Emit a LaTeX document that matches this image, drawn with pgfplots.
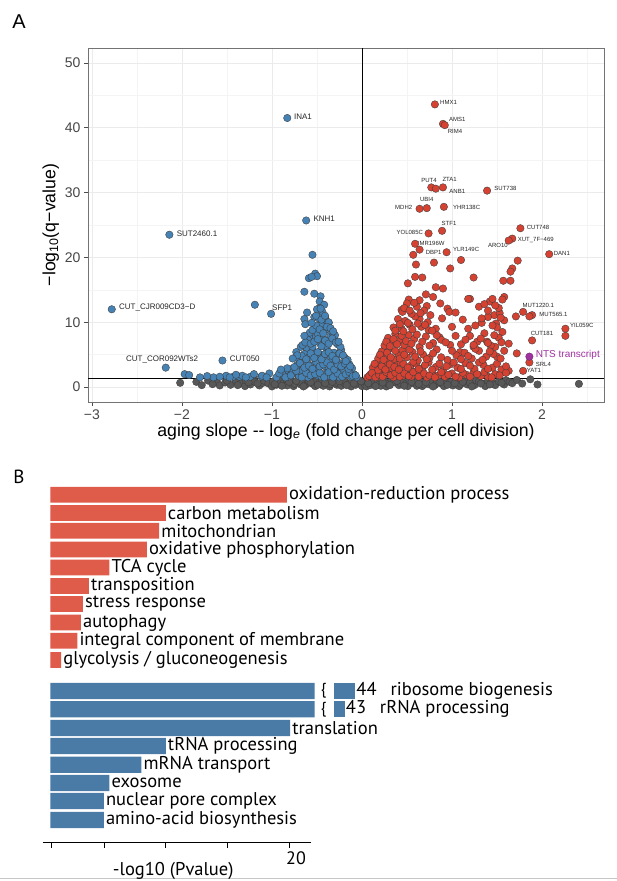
\documentclass[border=0pt]{standalone}
\usepackage{fontspec}
\setmainfont{Liberation Sans}
\newfontfamily\myriad{PT Sans}
\usepackage{pgfplots}
\usepackage{pgfplotstable}
\pgfplotsset{compat=1.18}
\definecolor{ptBlue}{RGB}{70,130,180}
\definecolor{ptRed}{RGB}{214,66,50}
\definecolor{ptGray}{RGB}{88,88,88}
\definecolor{ptPurple}{RGB}{160,50,160}
\definecolor{edge}{RGB}{60,60,60}
\definecolor{barRed}{RGB}{224,92,74}
\definecolor{barBlue}{RGB}{74,122,166}

\pgfplotstableread[col sep=comma]{
x,y,label
19.73,-494.7,oxidation-reduction process
9.62,-513.0,carbon metabolism
9.06,-530.8,mitochondrian
8.04,-549.5,oxidative phosphorylation
4.91,-567.5,TCA cycle
3.20,-586.0,transposition
2.70,-604.0,stress response
2.54,-622.5,autophagy
2.24,-640.8,integral component of membrane
0.89,-660.0,glycolysis / gluconeogenesis
}\redtab

\pgfplotstableread[col sep=comma]{
x,y,label
22.04,-691.0,
22.04,-709.3,
20.00,-728.0,translation
9.62,-746.0,tRNA processing
7.58,-764.7,mRNA transport
4.91,-783.0,exosome
4.45,-801.0,nuclear pore complex
4.45,-820.0,amino-acid biosynthesis
}\bluetab

\begin{document}
\begin{tikzpicture}
\fill[white] (0,0) rectangle (617pt,881pt);
\useasboundingbox (0,0) rectangle (617pt,881pt);
\node[font=\fontsize{20}{20}\selectfont] at (19pt,859pt) {A};
\node[font=\myriad\fontsize{19}{19}\selectfont] at (19pt,404pt) {B};
\draw[gray!45, line width=1.5pt] (0,2.5pt) -- (617pt,2.5pt);

% ---------------- Panel A: volcano ----------------
\begin{axis}[
  at={(88pt,479pt)}, anchor=south west,
  scale only axis, width=516pt, height=354pt,
  xmin=-3.044, xmax=2.689, ymin=-2.3, ymax=52.3,
  xtick={-3,-2,-1,0,1,2}, xticklabels={−3,−2,−1,0,1,2},
  ytick={0,10,20,30,40,50},
  minor xtick={-2.5,-1.5,-0.5,0.5,1.5,2.5},
  minor ytick={5,15,25,35,45},
  grid=both,
  major grid style={gray!16, line width=0.6pt},
  minor grid style={gray!9, line width=0.4pt},
  axis line style={black!55, line width=0.7pt},
  tick pos=left, tick align=outside,
  major tick length=4pt, minor tick length=0pt,
  tick style={black!70, line width=0.6pt},
  /pgf/number format/assume math mode=true,
  ticklabel style={font=\fontsize{14}{14}\selectfont, text=black!72},
  xlabel={aging slope -{}- log\textsubscript{\itshape e} (fold change per cell division)},
  ylabel={−log\textsubscript{10}(q−value)},
  label style={font=\fontsize{17.7}{18}\selectfont},
  xlabel style={yshift=3pt},
  ylabel style={yshift=-1pt},
  mark size=3.75pt,
]
% grey, not significant
\addplot[only marks, mark=*, mark options={fill=ptGray, draw=edge, line width=0.35pt}] coordinates {
(-2.02,0.66) (-1.84,0.80) (-1.78,0.30) (-1.71,1.00) (-1.61,0.70) (-1.58,0.25) (-1.52,0.70)
(-1.46,0.35) (-1.40,0.90) (-1.35,0.55) (-1.30,0.15) (-1.29,1.05) (-1.24,0.40) (-1.20,1.15)
(-1.19,0.80) (-1.14,0.25) (-1.10,0.65) (-1.09,1.00) (-1.04,0.55) (-1.00,0.10) (-0.99,0.85)
(-0.95,0.35) (-0.92,0.75) (-0.91,1.10) (-0.87,0.65) (-0.84,1.15) (-0.83,0.25) (-0.79,0.95)
(-0.76,0.15) (-0.75,0.50) (-0.71,1.10) (-0.68,0.40) (-0.67,0.70) (-0.63,0.30) (-0.60,0.65)
(-0.59,0.90) (-0.55,0.50) (-0.52,0.15) (-0.51,1.05) (-0.47,0.65) (-0.44,0.90) (-0.43,0.20)
(-0.39,0.85) (-0.36,0.10) (-0.35,0.45) (-0.31,1.00) (-0.28,0.35) (-0.27,0.60) (-0.23,0.20)
(-0.20,0.65) (-0.19,0.90) (-0.15,0.50) (-0.12,0.10) (-0.11,0.85) (-0.07,0.35) (-0.05,1.00)
(-0.03,0.65) (0.00,0.15) (0.03,0.45) (0.05,0.10) (0.06,0.85) (0.09,0.30) (0.11,0.65)
(0.13,1.00) (0.17,0.60) (0.19,0.35) (0.21,0.20) (0.25,0.95) (0.27,0.10) (0.29,0.50)
(0.33,1.10) (0.35,0.80) (0.37,0.70) (0.41,0.30) (0.43,0.60) (0.45,0.95) (0.49,0.50)
(0.51,0.15) (0.53,1.05) (0.57,0.60) (0.59,0.95) (0.61,0.20) (0.65,0.85) (0.67,0.15)
(0.69,0.40) (0.73,1.10) (0.75,0.40) (0.77,0.70) (0.81,0.30) (0.83,0.60) (0.85,0.90)
(0.89,0.50) (0.91,0.15) (0.93,1.05) (0.97,0.60) (0.99,0.80) (1.01,0.25) (1.05,0.90)
(1.08,0.15) (1.10,0.50) (1.15,1.00) (1.17,0.40) (1.20,0.65) (1.25,0.30) (1.27,1.05)
(1.30,0.85) (1.35,0.50) (1.37,0.15) (1.40,1.00) (1.46,0.60) (1.48,0.30) (1.52,0.90)
(1.58,0.40) (1.60,1.05) (1.64,0.80) (1.67,0.60) (1.72,1.10) (1.78,0.55) (1.87,1.20)
(1.95,0.40) (2.41,0.50)
(-0.97,0.45) (-0.89,0.20) (-0.81,0.80) (-0.73,0.95) (-0.65,0.10) (-0.57,0.75) (-0.49,0.35)
(-0.41,0.60) (-0.33,0.80) (-0.25,0.90) (-0.17,0.30) (-0.09,0.55) (-0.01,0.90) (0.07,0.60)
(0.15,0.15) (0.23,0.70) (0.31,0.30) (0.39,0.95) (0.47,0.20) (0.55,0.80) (0.63,0.50)
(0.71,0.75) (0.79,0.10) (0.87,0.75) (0.95,0.35) (1.03,0.60) (1.12,0.80) (1.22,0.10)
(1.32,0.55) (1.42,0.40) (1.55,0.65) (-1.16,0.55) (-1.26,0.75) (-1.38,0.30) (-1.50,1.00)
(-1.66,0.45)
};
% blue, decreasing with age
\addplot[only marks, mark=*, mark options={fill=ptBlue, draw=edge, line width=0.35pt}] coordinates {
(-0.83,41.5) (-0.62,25.7) (-2.14,23.5) (-2.78,12.0) (-1.01,11.3) (-1.19,12.7) (-2.18,3.0)
(-1.55,4.1) (-0.55,20.4) (-0.52,17.5) (-0.50,17.1) (-0.59,16.8) (-0.56,17.0) (-0.64,14.7)
(-0.53,14.4) (-0.46,14.0) (-0.47,13.2) (-0.42,12.7) (-0.47,12.2) (-0.61,11.5) (-0.64,10.5)
(-0.53,10.8) (-0.63,9.7) (-0.41,10.8) (-0.39,9.8) (-0.49,8.5) (-0.58,7.6) (-0.68,6.2)
(-0.73,5.4) (-0.61,5.8) (-0.79,2.6) (-0.86,2.2) (-0.74,2.2) (-1.03,2.1) (-1.12,1.6)
(-1.24,1.6) (-1.36,1.6) (-1.97,2.0) (-1.92,1.85) (-1.65,1.5) (-1.51,1.75) (-1.43,1.6)
(-1.33,1.75) (-1.11,1.75)
(-0.95,1.5) (-0.88,1.9) (-0.82,1.6) (-0.76,2.2) (-0.70,1.7) (-0.65,2.0) (-0.60,1.5)
(-0.55,2.3) (-0.50,1.8) (-0.45,1.6) (-0.40,2.1) (-0.35,1.7) (-0.30,1.9) (-0.25,1.5)
(-0.20,2.2) (-0.16,1.8) (-0.12,1.6) (-0.09,2.0) (-0.06,1.5)
(-0.68,2.4) (-0.58,2.6) (-0.48,2.4) (-0.38,2.6) (-0.28,2.4) (-0.18,2.6)
(-0.78,2.8) (-0.72,3.4) (-0.66,2.6) (-0.61,3.8) (-0.57,3.0) (-0.53,3.5) (-0.49,2.7)
(-0.45,3.9) (-0.41,3.2) (-0.37,2.9) (-0.33,3.6) (-0.29,3.1) (-0.25,3.7) (-0.21,2.8)
(-0.17,3.3) (-0.14,3.5) (-0.11,2.9)
(-0.70,4.3) (-0.64,5.1) (-0.59,4.6) (-0.55,5.6) (-0.51,4.2) (-0.47,5.0) (-0.43,4.7)
(-0.39,5.8) (-0.35,4.4) (-0.31,5.3) (-0.27,4.9) (-0.23,5.7) (-0.19,4.5) (-0.16,4.2)
(-0.66,6.5) (-0.60,7.3) (-0.55,6.2) (-0.51,7.8) (-0.47,6.8) (-0.43,7.5) (-0.39,6.3)
(-0.35,7.9) (-0.31,7.1) (-0.27,6.6) (-0.24,6.2)
(-0.58,8.4) (-0.53,9.1) (-0.49,8.2) (-0.45,9.6) (-0.41,8.8) (-0.37,9.9) (-0.33,8.5)
(-0.30,8.0) (-0.48,10.6) (-0.44,11.2) (-0.40,10.3) (-0.37,10.0)
(-0.92,2.1) (-0.85,1.5) (-0.79,1.8) (-0.73,2.5) (-0.67,1.5) (-0.62,2.2) (-0.57,1.8)
(-0.52,2.0) (-0.47,2.2) (-0.42,1.5) (-0.37,2.3) (-0.32,1.5) (-0.27,2.1) (-0.22,1.6)
(-0.18,2.0) (-0.14,2.3) (-0.10,1.7) (-0.07,1.8) (-1.06,1.5) (-1.20,2.0) (-1.29,1.5)
(-1.40,1.9) (-1.47,1.5) (-1.58,1.6) (-1.72,1.7) (-1.80,1.5)
(-0.75,3.1) (-0.69,3.7) (-0.64,3.0) (-0.59,3.3) (-0.55,2.8) (-0.51,3.9) (-0.47,3.2)
(-0.43,3.5) (-0.39,3.8) (-0.35,3.3) (-0.31,2.7) (-0.27,3.5) (-0.23,3.2) (-0.19,3.6)
(-0.15,2.8) (-0.13,3.2) (-0.83,2.9) (-0.90,2.7)
(-0.67,4.8) (-0.62,4.3) (-0.57,5.2) (-0.53,4.5) (-0.49,5.4) (-0.45,4.3) (-0.41,5.1)
(-0.37,5.4) (-0.33,4.8) (-0.29,4.2) (-0.25,5.2) (-0.21,4.9) (-0.18,4.0) (-0.72,4.9)
(-0.77,4.4)
(-0.63,6.9) (-0.57,6.7) (-0.53,7.0) (-0.49,7.4) (-0.45,6.3) (-0.41,7.2) (-0.37,6.7)
(-0.33,7.5) (-0.29,6.9) (-0.26,7.0) (-0.64,7.9)
(-0.55,8.8) (-0.51,9.5) (-0.47,8.9) (-0.43,8.3) (-0.39,9.3) (-0.35,9.1) (-0.32,8.6)
(-0.56,9.9) (-0.51,11.0) (-0.45,10.4) (-0.44,11.6) (-0.41,11.0) (-0.50,12.0) (-0.46,12.1)
};
% red, increasing with age
\addplot[only marks, mark=*, mark options={fill=ptRed, draw=edge, line width=0.35pt}] coordinates {
(0.81,43.6) (0.90,40.6) (0.92,40.4) (0.77,30.8) (0.82,30.6) (0.90,30.8) (1.39,30.3)
(0.64,27.5) (0.72,27.6) (0.91,27.8) (0.89,24.1) (0.74,23.7) (0.59,22.1) (0.64,21.2)
(0.57,20.4) (0.94,20.8) (1.76,24.5) (1.67,22.9) (1.63,22.6) (2.08,20.5) (1.73,19.5)
(0.60,18.9) (0.80,19.2) (1.10,19.6) (0.98,18.3) (1.67,18.3) (1.65,17.8) (1.57,16.4)
(1.65,16.4) (1.24,16.9) (1.58,13.9) (1.56,13.5) (1.20,13.6) (1.42,13.2) (1.30,12.4)
(1.79,11.6) (1.89,11.1) (1.86,10.9) (1.71,10.9) (1.47,11.1) (1.53,11.4) (2.26,9.0)
(2.26,7.9) (1.89,7.2) (1.72,5.2) (1.86,3.8) (1.79,2.5) (1.63,2.5) (1.57,2.4)
(1.33,9.9) (1.49,9.8) (1.56,8.5) (1.48,6.2) (1.63,6.7) (1.50,4.7)
(0.59,17.0) (0.67,16.9) (0.51,16.0) (0.82,15.4) (0.90,15.2) (0.71,14.3) (0.79,13.9)
(0.52,13.5) (0.64,13.4) (1.18,13.6) (0.87,12.9) (0.72,12.5) (0.44,11.9) (0.95,12.1)
(0.97,11.6) (0.76,11.1) (1.04,11.5) (0.64,10.5) (0.89,10.6) (1.00,9.3) (0.74,8.8)
(0.86,7.7) (1.04,7.9) (0.98,6.5) (1.24,6.2) (1.09,5.4) (1.39,7.0)
(0.06,1.5) (0.09,1.9) (0.13,2.2) (0.17,1.6) (0.21,2.4) (0.25,1.8) (0.30,2.1) (0.35,1.5)
(0.40,2.3) (0.45,1.7) (0.50,2.0) (0.55,1.6) (0.60,2.4) (0.66,1.9) (0.72,1.5) (0.78,2.2)
(0.85,1.8) (0.92,1.6) (1.00,2.1) (1.08,1.5) (1.16,1.9) (1.24,2.3) (1.32,1.7) (1.40,1.6)
(1.48,2.0)
(0.12,3.0) (0.16,3.7) (0.20,2.8) (0.24,3.5) (0.28,3.9) (0.33,2.9) (0.38,3.4) (0.43,3.8)
(0.48,2.7) (0.54,3.3) (0.60,3.6) (0.67,2.9) (0.74,3.8) (0.82,3.1) (0.90,2.6) (0.98,3.5)
(1.06,3.0) (1.15,3.7) (1.25,2.8) (1.35,3.4) (1.45,3.0) (1.55,2.7)
(0.18,4.4) (0.22,5.5) (0.26,4.8) (0.30,5.9) (0.35,4.3) (0.40,5.2) (0.45,5.7) (0.50,4.6)
(0.56,5.4) (0.62,4.1) (0.68,5.0) (0.75,4.5) (0.83,5.8) (0.95,4.2) (1.05,4.9) (1.14,5.3)
(1.22,4.4) (1.30,5.6) (1.38,4.7) (1.46,5.1)
(0.25,6.4) (0.29,7.6) (0.33,6.9) (0.37,8.2) (0.42,7.2) (0.47,6.5) (0.52,8.0) (0.58,7.4)
(0.64,6.2) (0.71,7.8) (0.79,6.8) (0.88,7.3) (1.10,6.6) (1.20,7.9) (1.28,7.0) (1.36,8.3)
(1.43,6.4) (1.52,7.6)
(0.35,9.2) (0.40,10.5) (0.44,9.0) (0.48,10.2) (0.53,9.6) (0.59,10.9) (0.66,9.3) (0.73,10.0)
(0.82,9.0) (1.12,10.4) (1.26,9.5) (1.40,10.8) (1.50,9.2) (1.58,10.3)
(0.45,11.6) (0.50,12.9) (0.55,11.3) (0.61,12.4) (0.69,11.8) (1.36,12.8) (1.45,13.6) (1.52,12.2)
(0.08,1.7) (0.11,2.2) (0.15,1.5) (0.19,1.9) (0.23,1.6) (0.27,2.3) (0.32,1.8) (0.37,2.2)
(0.42,1.6) (0.47,2.1) (0.52,1.7) (0.57,2.3) (0.63,1.6) (0.69,2.1) (0.75,1.8) (0.81,1.5)
(0.88,2.3) (0.96,1.9) (1.04,1.6) (1.12,2.2) (1.20,1.6) (1.28,2.0) (1.36,2.3) (1.44,1.5)
(1.53,1.8) (1.60,2.2)
(0.14,3.6) (0.18,2.6) (0.22,3.2) (0.26,2.7) (0.31,3.5) (0.36,3.1) (0.41,2.7) (0.46,3.6)
(0.51,3.0) (0.57,3.9) (0.63,2.8) (0.70,3.4) (0.78,2.7) (0.86,3.6) (0.94,3.2) (1.02,3.8)
(1.10,2.8) (1.20,3.3) (1.30,3.8) (1.40,2.8) (1.50,3.6) (1.60,3.2)
(0.20,5.0) (0.24,4.2) (0.28,5.3) (0.32,4.6) (0.37,5.6) (0.42,4.4) (0.47,5.0) (0.53,5.8)
(0.59,4.7) (0.65,5.5) (0.72,4.3) (0.79,5.2) (0.88,4.6) (1.00,5.6) (1.10,4.3) (1.18,4.8)
(1.26,5.9) (1.34,4.2) (1.42,5.5) (1.54,4.4) (1.58,5.6)
(0.27,7.0) (0.31,6.3) (0.35,7.4) (0.39,6.6) (0.44,7.9) (0.49,7.1) (0.55,6.7) (0.61,8.1)
(0.67,7.0) (0.75,6.4) (0.83,8.0) (0.93,6.9) (1.15,7.3) (1.24,6.5) (1.32,7.5) (1.40,6.8)
(1.47,8.0) (1.55,6.9)
(0.37,8.7) (0.42,9.7) (0.46,8.6) (0.51,9.9) (0.56,8.9) (0.62,9.8) (0.70,9.6) (0.78,8.7)
(1.18,9.0) (1.33,10.6) (1.45,9.5) (1.54,10.7)
(0.47,12.2) (0.53,11.8) (0.58,13.0) (0.65,11.4) (1.40,11.8) (1.48,12.6)
};
\addplot[only marks, mark=*, mark options={fill=ptPurple, draw=ptPurple!70!black, line width=0.35pt}] coordinates {(1.86,4.7)};
\addplot[black, line width=0.7pt] coordinates {(0,-2.3) (0,52.3)};
\addplot[black, line width=0.7pt] coordinates {(-3.044,1.3) (2.689,1.3)};
% labels
\begin{scope}[every node/.style={font=\fontsize{8}{8}\selectfont, text=black!85, inner sep=0pt}]
\node[anchor=west] at (axis cs:-0.756,41.7) {INA1};
\node[anchor=west] at (axis cs:-0.54,25.9) {KNH1};
\node[anchor=west] at (axis cs:-2.06,23.7) {SUT2460.1};
\node[anchor=west] at (axis cs:-2.70,12.2) {CUT\_CJR009CD3−D};
\node[anchor=west] at (axis cs:-1.00,12.2) {SFP1};
\node at (axis cs:-2.22,4.3) {CUT\_COR092WTs2};
\node[anchor=west] at (axis cs:-1.47,4.3) {CUT050};
\end{scope}
\begin{scope}[every node/.style={font=\fontsize{6}{6}\selectfont, text=black!85, inner sep=0pt}]
\node[anchor=west] at (axis cs:0.867,43.9) {HMX1};
\node[anchor=west] at (axis cs:0.967,41.3) {AMS1};
\node[anchor=west] at (axis cs:0.952,39.4) {RIM4};
\node at (axis cs:0.744,31.9) {PUT4};
\node at (axis cs:0.974,32.1) {ZTA1};
\node[anchor=west] at (axis cs:0.97,30.2) {ANB1};
\node[anchor=west] at (axis cs:1.47,30.6) {SUT738};
\node at (axis cs:0.72,28.9) {UBI4};
\node[anchor=east] at (axis cs:0.56,27.7) {MDH2};
\node[anchor=west] at (axis cs:1.01,27.7) {YHR138C};
\node at (axis cs:0.967,25.3) {STF1};
\node[anchor=east] at (axis cs:0.68,23.9) {YOL085C};
\node at (axis cs:0.756,22.2) {YMR196W};
\node[anchor=west] at (axis cs:0.707,20.8) {DBP1};
\node[anchor=west] at (axis cs:1.01,21.3) {YLR149C};
\node at (axis cs:1.51,21.8) {ARO10};
\node[anchor=west] at (axis cs:1.83,24.7) {CUT748};
\node[anchor=west] at (axis cs:1.73,22.7) {XUT\_7F−469};
\node[anchor=west] at (axis cs:2.13,20.6) {DAN1};
\node at (axis cs:1.96,12.6) {MUT1220.1};
\node[anchor=west] at (axis cs:1.97,11.2) {MUT565.1};
\node[anchor=west] at (axis cs:2.31,9.5) {YIL059C};
\node at (axis cs:2.0,8.3) {CUT181};
\node[anchor=west] at (axis cs:1.93,3.5) {SRL4};
\node[anchor=west] at (axis cs:1.83,2.5) {YAT1};
\end{scope}
\node[anchor=west, inner sep=0pt, font=\fontsize{10}{10}\selectfont, text=ptPurple] at (axis cs:1.93,5.0) {NTS transcript};
\end{axis}

% ---------------- Panel B: enrichment bars ----------------
\begin{axis}[
  at={(43.3pt,38.3pt)}, anchor=south west,
  scale only axis, width=267.4pt, height=361.7pt,
  xmin=-0.60, xmax=21.71, ymin=-842.7, ymax=-481,
  clip=false,
  axis y line=none, axis x line=bottom,
  x axis line style={-, black, line width=0.8pt},
  xtick={0.1,4.46,9.61,14.75,19.9}, xticklabels={,,,,20},
  tick align=outside, major tick length=5pt,
  tick style={black, line width=0.8pt},
  xticklabel style={font=\myriad\fontsize{18}{18}\selectfont, xshift=7pt},
  xlabel={-log10 (Pvalue)},
  xlabel style={font=\myriad\fontsize{18.5}{18.5}\selectfont, at={(axis description cs:0.486,0)}, anchor=north, yshift=-16pt},
]
\addplot[xbar, bar width=15.8pt, bar shift=0pt, fill=barRed, draw=none,
  nodes near coords, point meta=explicit symbolic,
  every node near coord/.append style={anchor=west, inner sep=2pt, font=\myriad\fontsize{18.5}{18.5}\selectfont}]
  table[x=x, y=y, meta=label] {\redtab};
\addplot[xbar, bar width=16.2pt, bar shift=0pt, fill=barBlue, draw=none,
  nodes near coords, point meta=explicit symbolic,
  every node near coord/.append style={anchor=west, inner sep=2pt, font=\myriad\fontsize{18.5}{18.5}\selectfont}]
  table[x=x, y=y, meta=label] {\bluetab};
% broken-bar tails (values 44 and 43)
\addplot[fill=barBlue, draw=none] coordinates {(23.62,-682.9) (25.43,-682.9) (25.43,-699.1) (23.62,-699.1)} -- cycle;
\addplot[fill=barBlue, draw=none] coordinates {(23.62,-701.2) (24.55,-701.2) (24.55,-717.4) (23.62,-717.4)} -- cycle;
\node[font=\myriad\fontsize{16}{16}\selectfont] at (axis cs:22.78,-691) {\{};
\node[font=\myriad\fontsize{16}{16}\selectfont] at (axis cs:22.78,-709.3) {\{};
\node[anchor=west, inner sep=1pt, font=\myriad\fontsize{18.5}{18.5}\selectfont] at (axis cs:25.43,-691) {44\hspace{0.75em}ribosome biogenesis};
\node[anchor=west, inner sep=1pt, font=\myriad\fontsize{18.5}{18.5}\selectfont] at (axis cs:24.55,-709.3) {43\hspace{0.75em}rRNA processing};
\end{axis}
\end{tikzpicture}
\end{document}
